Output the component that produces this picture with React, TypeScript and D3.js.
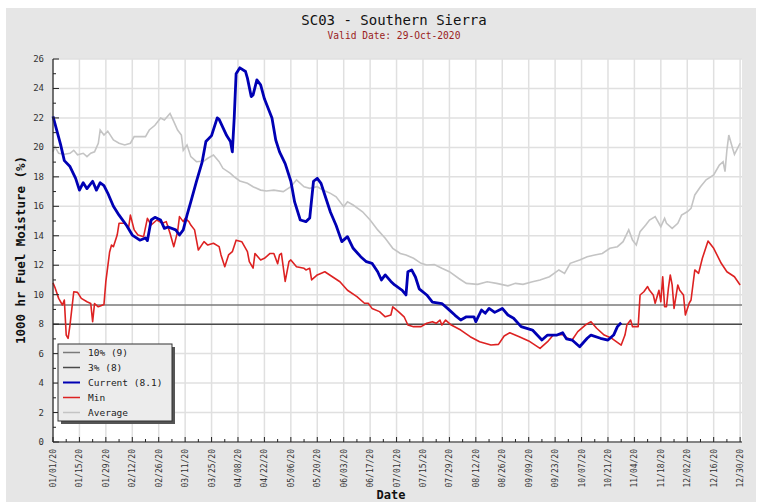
import React from 'react';
import * as d3 from 'd3';

// days since 01/01/20, value in %
const currentSeries: [number, number][] = [
  [0, 22.1], [4, 20.2], [6, 19.1], [9, 18.7], [12, 17.9], [14, 17.1], [16, 17.6], [18, 17.2],
  [21, 17.7], [23, 17.1], [25, 17.6], [27, 17.4], [29, 16.9], [32, 16.0], [35, 15.4], [39, 14.7],
  [42, 14.05], [46, 13.7], [49, 13.85], [50, 13.67], [52, 15.07], [54, 15.25], [57, 15.07], [59, 14.5],
  [61, 14.6], [65, 14.4], [67, 14.05], [69, 14.4], [71, 15.4], [73, 16.3], [76, 17.7], [79, 19.0],
  [81, 20.4], [84, 20.8], [87, 22.0], [88, 21.9], [92, 20.8], [94, 20.4], [95, 19.7], [96, 22.0],
  [97, 25.0], [99, 25.4], [102, 25.15], [103, 24.7], [105, 23.45], [106, 23.56], [108, 24.58], [110, 24.24],
  [112, 23.3], [116, 22.0], [118, 20.5], [120, 19.7], [123, 18.9], [126, 17.7], [128, 16.3], [131, 15.07],
  [134, 14.96], [136, 15.2], [138, 17.7], [140, 17.9], [142, 17.56], [144, 16.77], [147, 15.6], [150, 14.7],
  [153, 13.6], [156, 13.94], [159, 13.15], [163, 12.58], [166, 12.24], [169, 12.13], [172, 11.56], [174, 11.0],
  [176, 11.34], [179, 10.9], [181, 10.66], [185, 10.3], [187, 9.98], [188, 11.56], [190, 11.68], [192, 11.2],
  [194, 10.4], [198, 9.98], [201, 9.5], [206, 9.4], [209, 9.07], [213, 8.6], [216, 8.28], [219, 8.5],
  [223, 8.5], [224, 8.17], [227, 8.96], [229, 8.74], [231, 9.07], [234, 8.8], [238, 9.07], [241, 8.62],
  [244, 8.4], [248, 7.83], [254, 7.6], [259, 6.92], [262, 7.26], [267, 7.26], [270, 7.42], [272, 7.0],
  [275, 6.92], [279, 6.47], [283, 7.04], [285, 7.26], [290, 7.04], [294, 6.92], [297, 7.26], [299, 7.83],
  [301, 8.1],
];

const minSeries: [number, number][] = [
  [0, 10.8], [1, 10.5], [3, 9.75], [5, 9.3], [6, 9.64], [7, 7.26], [8, 7.04], [9, 7.94],
  [11, 10.2], [13, 10.16], [15, 9.75], [18, 9.52], [20, 9.4], [21, 8.17], [22, 9.4], [24, 9.18],
  [27, 9.34], [28, 10.9], [30, 12.9], [31, 13.37], [32, 13.26], [34, 14.05], [35, 14.85], [38, 14.85],
  [40, 14.5], [41, 15.4], [43, 14.4], [45, 14.05], [48, 13.94], [50, 15.18], [52, 14.73], [55, 15.07],
  [58, 14.85], [60, 14.96], [62, 14.17], [64, 13.26], [66, 14.28], [67, 15.3], [69, 14.96], [70, 15.18],
  [72, 14.96], [73, 14.73], [75, 14.4], [77, 13.03], [80, 13.6], [82, 13.37], [85, 13.49], [88, 13.26],
  [89, 12.7], [91, 11.9], [93, 12.7], [95, 12.92], [97, 13.7], [100, 13.6], [103, 12.92], [104, 12.24],
  [106, 11.8], [107, 12.8], [110, 12.36], [112, 12.47], [115, 12.8], [117, 12.8], [119, 12.1], [120, 12.7],
  [121, 12.8], [123, 10.9], [125, 12.24], [126, 12.36], [129, 11.9], [133, 11.79], [134, 11.68], [136, 11.79],
  [137, 11.0], [140, 11.34], [144, 11.56], [148, 11.22], [152, 10.88], [156, 10.3], [161, 9.87], [165, 9.42],
  [167, 9.42], [169, 9.07], [173, 8.85], [176, 8.5], [179, 8.62], [180, 9.18], [183, 8.85], [186, 8.5],
  [188, 7.94], [191, 7.83], [195, 7.83], [198, 8.06], [201, 8.17], [203, 8.06], [205, 8.28], [206, 7.94],
  [208, 8.28], [211, 7.94], [216, 7.6], [221, 7.15], [226, 6.81], [232, 6.58], [236, 6.63], [239, 7.2],
  [242, 7.42], [247, 7.15], [252, 6.86], [258, 6.36], [262, 6.81], [265, 7.26], [270, 7.3], [272, 7.08],
  [275, 6.92], [278, 7.49], [282, 7.94], [285, 8.17], [288, 7.72], [292, 7.26], [296, 7.04], [301, 6.58],
  [303, 7.26], [304, 7.94], [306, 8.28], [307, 7.83], [310, 7.83], [311, 9.98], [313, 10.2], [315, 10.55],
  [316, 10.3], [318, 9.98], [319, 9.42], [321, 10.3], [322, 9.52], [323, 11.22], [324, 9.18], [325, 9.18],
  [326, 10.43], [327, 11.34], [328, 10.66], [329, 9.07], [331, 10.66], [332, 10.3], [334, 9.98], [335, 8.62],
  [337, 9.42], [338, 9.64], [340, 11.68], [342, 11.45], [344, 12.47], [347, 13.64], [350, 13.15], [354, 12.13],
  [357, 11.56], [361, 11.22], [364, 10.66],
];

const averageSeries: [number, number][] = [
  [0, 19.7], [1, 20.05], [3, 19.6], [6, 19.53], [9, 19.6], [11, 19.8], [13, 19.5], [16, 19.6],
  [18, 19.37], [20, 19.6], [22, 19.7], [24, 20.28], [25, 21.18], [27, 20.84], [29, 21.1], [32, 20.5],
  [35, 20.28], [38, 20.16], [41, 20.28], [43, 20.73], [46, 20.73], [49, 20.73], [51, 21.18], [54, 21.5],
  [57, 22.0], [59, 21.86], [62, 22.3], [64, 21.75], [66, 21.18], [68, 20.84], [69, 19.8], [71, 20.16],
  [73, 19.37], [76, 19.03], [80, 19.08], [82, 19.26], [85, 19.48], [88, 19.03], [90, 18.58], [94, 18.24],
  [96, 18.0], [99, 17.72], [103, 17.56], [106, 17.33], [110, 17.1], [113, 17.04], [117, 17.1], [122, 17.0],
  [126, 17.33], [129, 17.8], [133, 17.33], [136, 17.22], [140, 17.33], [143, 17.1], [147, 16.88], [150, 16.65],
  [154, 15.97], [156, 16.3], [159, 16.09], [164, 15.63], [168, 15.07], [172, 14.4], [176, 13.83], [180, 13.15],
  [184, 12.8], [187, 12.7], [191, 12.47], [195, 12.13], [198, 12.02], [202, 12.05], [206, 11.79], [210, 11.56],
  [215, 11.1], [219, 10.77], [225, 10.7], [230, 10.88], [235, 10.77], [241, 10.6], [245, 10.77], [249, 10.7],
  [254, 10.88], [258, 11.0], [263, 11.22], [268, 11.68], [271, 11.45], [274, 12.13], [279, 12.36], [283, 12.58],
  [287, 12.7], [291, 12.8], [295, 13.15], [299, 13.26], [302, 13.6], [305, 14.4], [307, 13.71], [309, 13.37],
  [311, 14.28], [314, 14.73], [316, 15.07], [319, 15.3], [322, 14.62], [324, 15.18], [325, 14.85], [328, 14.5],
  [331, 14.85], [333, 15.4], [336, 15.63], [338, 15.86], [340, 16.77], [343, 17.33], [346, 17.8], [350, 18.13],
  [353, 18.8], [355, 19.03], [356, 18.35], [357, 19.82], [358, 20.84], [360, 19.94], [361, 19.53], [364, 20.28],
];

const thresholdNames = ['10% (9)', '3% (8)'];
const thresholdValues = [9.3, 8.0];
const thresholdColors = ['#7a7a7a', '#4a4a4a'];

const legendLabels = ['10% (9)', '3% (8)', 'Current (8.1)', 'Min', 'Average'];
const legendColors = ['#7a7a7a', '#4a4a4a', '#0000b4', '#dd2222', '#c4c4c4'];

const yTicks = d3.range(0, 27, 2);
const yMinorTicks = d3.range(1, 26, 2);
const xTickDays = d3.range(0, 365, 14);
const xMinorDays = d3.range(7, 365, 14);

const W = 781, H = 502;
const plot = { left: 53, right: 742, top: 59, bottom: 442 };
const mono = '"DejaVu Sans Mono", monospace';

const fmtDate = d3.utcFormat('%m/%d/%y');
const dayLabel = (d: number) => fmtDate(new Date(Date.UTC(2020, 0, 1 + d)));

export default function App() {
  const x = d3.scaleLinear().domain([0, 365]).range([plot.left, plot.right]);
  const y = d3.scaleLinear().domain([0, 26]).range([plot.bottom, plot.top]);
  const line = d3.line<[number, number]>().x(d => x(d[0])).y(d => y(d[1]));

  return (
    <svg width={W} height={H} style={{ position: 'absolute', left: 0, top: 0 }} fontFamily={mono}>
      <rect x={0} y={0} width={W} height={H} fill="#fff" />
      <rect x={6} y={8} width={750} height={H - 8} fill="#e6e6e6" />
      <text x={394} y={25} textAnchor="middle" fontSize={14} fill="#111">SC03 - Southern Sierra</text>
      <text x={394} y={39} textAnchor="middle" fontSize={9.6} fill="#9a1c1c">Valid Date: 29-Oct-2020</text>

      <rect x={plot.left} y={plot.top} width={plot.right - plot.left} height={plot.bottom - plot.top} fill="#fff" />

      {/* grid */}
      {yTicks.map(t => (
        <line key={'gy' + t} x1={plot.left} x2={plot.right} y1={y(t)} y2={y(t)} stroke="#e0e0e0" strokeWidth={1.5} />
      ))}
      {xTickDays.map(d => (
        <line key={'gx' + d} x1={x(d)} x2={x(d)} y1={plot.top} y2={plot.bottom} stroke="#e0e0e0" strokeWidth={1.5} />
      ))}

      {/* threshold lines */}
      {thresholdValues.map((v, i) => (
        <line key={thresholdNames[i]} x1={plot.left} x2={plot.right} y1={y(v)} y2={y(v)} stroke={thresholdColors[i]} strokeWidth={1.5} />
      ))}

      <path d={line(averageSeries) || ''} fill="none" stroke="#c4c4c4" strokeWidth={1.6} />
      <path d={line(minSeries) || ''} fill="none" stroke="#dd2222" strokeWidth={1.6} strokeLinejoin="round" />
      <path d={line(currentSeries) || ''} fill="none" stroke="#0000b4" strokeWidth={2.8} strokeLinejoin="round" />

      {/* axes */}
      <line x1={plot.left} x2={plot.left} y1={plot.top} y2={plot.bottom} stroke="#222" strokeWidth={1.2} />
      <line x1={plot.left} x2={plot.right} y1={plot.bottom} y2={plot.bottom} stroke="#222" strokeWidth={1.2} />
      {yTicks.map(t => (
        <g key={'ty' + t}>
          <line x1={plot.left} x2={plot.left + 6} y1={y(t)} y2={y(t)} stroke="#222" />
          <text x={44} y={y(t) + 3} textAnchor="end" fontSize={9} fill="#333">{t}</text>
        </g>
      ))}
      {yMinorTicks.map(t => (
        <line key={'my' + t} x1={plot.left} x2={plot.left + 3} y1={y(t)} y2={y(t)} stroke="#222" />
      ))}
      {xTickDays.map(d => (
        <g key={'tx' + d}>
          <line x1={x(d)} x2={x(d)} y1={plot.bottom} y2={plot.bottom - 5} stroke="#222" />
          <text transform={`translate(${x(d) + 3},449) rotate(-90)`} textAnchor="end" fontSize={8} fill="#333">{dayLabel(d)}</text>
        </g>
      ))}
      {xMinorDays.map(d => (
        <line key={'mx' + d} x1={x(d)} x2={x(d)} y1={plot.bottom} y2={plot.bottom - 3} stroke="#222" />
      ))}

      <text transform="translate(25,250) rotate(-90)" textAnchor="middle" fontSize={12.5} fontWeight="bold" fill="#111">1000 hr Fuel Moisture (%)</text>
      <text x={391} y={499} textAnchor="middle" fontSize={12} fontWeight="bold" fill="#111">Date</text>

      {/* legend */}
      <rect x={61} y={347} width={114} height={77} fill="#555" />
      <rect x={58} y={344} width={114} height={77} fill="#ececec" stroke="#333" strokeWidth={1} />
      {legendLabels.map((l, i) => (
        <g key={l}>
          <line x1={63} x2={80} y1={352.5 + i * 15} y2={352.5 + i * 15} stroke={legendColors[i]} strokeWidth={i === 2 ? 2 : 1.5} />
          <text x={88} y={356 + i * 15} fontSize={9.5} fill="#222">{l}</text>
        </g>
      ))}
    </svg>
  );
}
